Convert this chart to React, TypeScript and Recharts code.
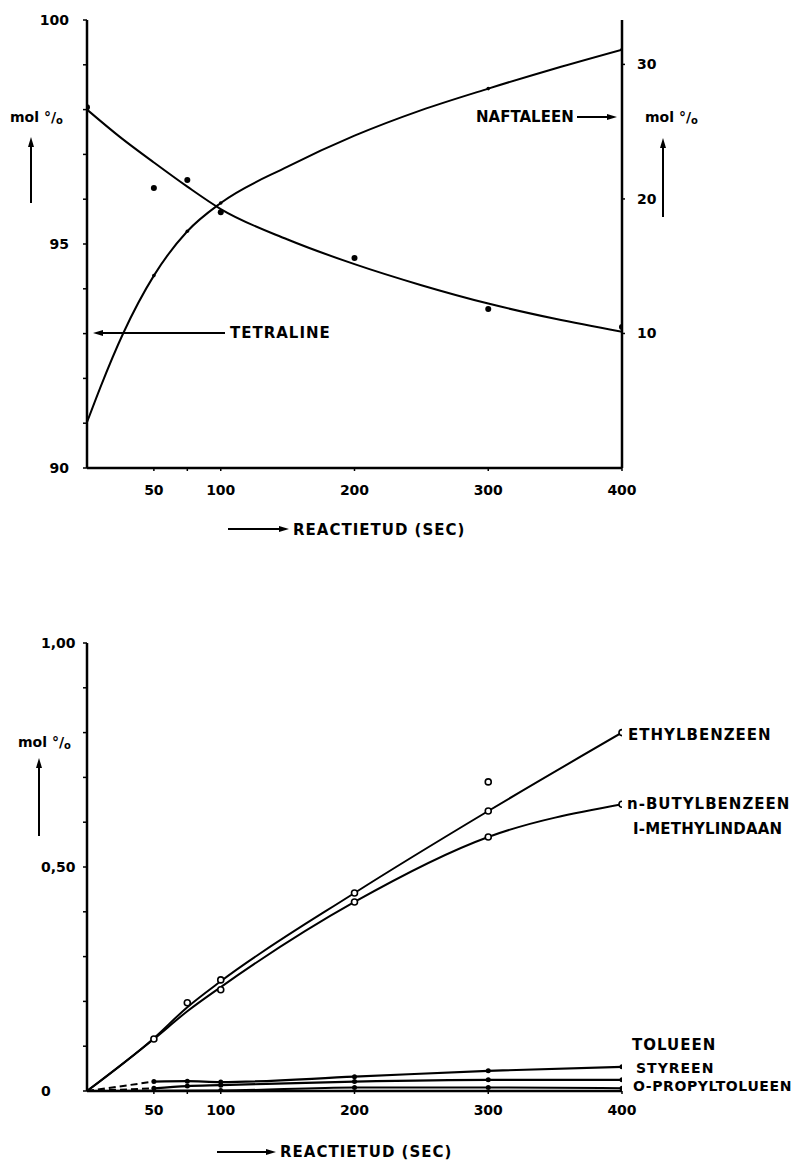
import React from 'react';
import { ComposedChart, Line, XAxis, YAxis } from 'recharts';

const FONT = "'DejaVu Sans', 'Liberation Sans', sans-serif";

// ---------- shared x axis ----------
const X_TICKS = [50, 75, 100, 200, 300, 400];
const X_TICK_LABELS = ['50', '', '100', '200', '300', '400'];

// ---------- top chart: tetraline (left axis) ----------
const TOP_LEFT_TICKS = [90, 91, 92, 93, 94, 95, 96, 97, 98, 99, 100];
const TOP_LEFT_LABELED = [90, 95, 100];
const TOP_RIGHT_TICKS = [10, 20, 30];

const TETRA_FIT_T = [0, 25, 50, 75, 100, 150, 200, 250, 300, 350, 400];
const TETRA_FIT_V = [98.0, 97.38, 96.82, 96.28, 95.78, 95.1, 94.55, 94.08, 93.67, 93.33, 93.04];
const TETRA_PT_T = [0, 50, 75, 100, 200, 300, 400];
const TETRA_PT_V = [98.05, 96.25, 96.43, 95.71, 94.69, 93.55, 93.15];

// ---------- top chart: naftaleen (right axis) ----------
const NAFT_FIT_T = [0, 10, 27, 50, 75, 100, 150, 200, 250, 300, 350, 400];
const NAFT_FIT_V = [3.4, 6.0, 10.0, 14.3, 17.6, 19.7, 22.4, 24.7, 26.6, 28.2, 29.7, 31.1];
const NAFT_PT_T = [50, 75, 100, 300, 400];
const NAFT_PT_V = [14.3, 17.6, 19.7, 28.2, 31.1];

// ---------- bottom chart ----------
const BOT_Y_TICKS = [0, 0.1, 0.2, 0.3, 0.4, 0.5, 0.6, 0.7, 0.8, 0.9, 1.0];
const BOT_Y_LABELS: Record<string, string> = { '0': '0', '0.5': '0,50', '1': '1,00' };

const ETHYL_T = [0, 50, 75, 100, 200, 300, 400];
const ETHYL_V = [0, 0.118, 0.187, 0.245, 0.442, 0.625, 0.8];
const ETHYL_DOT_T = [75, 100, 200, 300, 400];
const ETHYL_DOT_V = [0.197, 0.248, 0.442, 0.625, 0.8];
const ETHYL_OUT_T = [300];
const ETHYL_OUT_V = [0.69];

const BUTYL_T = [0, 50, 75, 100, 200, 300, 400];
const BUTYL_V = [0, 0.116, 0.178, 0.232, 0.422, 0.567, 0.64];
const BUTYL_DOT_T = [50, 100, 200, 300, 400];
const BUTYL_DOT_V = [0.116, 0.226, 0.422, 0.567, 0.64];

const TOLU_LEAD_T = [0, 50];
const TOLU_LEAD_V = [0, 0.021];
const TOLU_T = [50, 75, 100, 200, 300, 400];
const TOLU_V = [0.021, 0.022, 0.02, 0.032, 0.045, 0.054];

const STYR_LEAD_T = [0, 50];
const STYR_LEAD_V = [0, 0.006];
const STYR_T = [50, 75, 100, 200, 300, 400];
const STYR_V = [0.006, 0.011, 0.013, 0.021, 0.025, 0.025];

const PROP_T = [0, 100, 200, 300, 400];
const PROP_V = [0, 0.001, 0.008, 0.008, 0.006];

const zip = (t: number[], v: number[]) => t.map((tt, i) => ({ t: tt, v: v[i] }));

const tickStyle = { fontFamily: FONT, fontWeight: 700, fontSize: 14, fill: '#000' } as const;
const labelStyle = { fontFamily: FONT, fontWeight: 700, fontSize: 15, fill: '#000', letterSpacing: 1 } as const;

function XTick(props: any) {
  const { x, y, payload } = props;
  const label = X_TICK_LABELS[X_TICKS.indexOf(payload.value)];
  if (!label) return <g />;
  return (
    <text x={x} y={y} textAnchor="middle" dominantBaseline="central" style={tickStyle}>
      {label}
    </text>
  );
}

function TopLeftTick(props: any) {
  const { x, y, payload } = props;
  if (!TOP_LEFT_LABELED.includes(payload.value)) return <g />;
  return (
    <text x={x} y={y} textAnchor="end" dominantBaseline="central" style={tickStyle}>
      {payload.value}
    </text>
  );
}

function TopRightTick(props: any) {
  const { x, y, payload } = props;
  return (
    <text x={x} y={y} textAnchor="start" dominantBaseline="central" style={tickStyle}>
      {payload.value}
    </text>
  );
}

function BotLeftTick(props: any) {
  const { x, y, payload } = props;
  const key = String(Math.round(payload.value * 10) / 10);
  const label = BOT_Y_LABELS[key];
  if (!label) return <g />;
  return (
    <text x={x - 28} y={y} textAnchor="start" dominantBaseline="central" style={tickStyle}>
      {label}
    </text>
  );
}

const filledDot = (r: number) => (p: any) =>
  <circle key={`f${p.index}`} cx={p.cx} cy={p.cy} r={r} fill="#000" stroke="none" />;
const openDot = (r: number) => (p: any) =>
  <circle key={`o${p.index}`} cx={p.cx} cy={p.cy} r={r} fill="#fff" stroke="#000" strokeWidth={1.6} />;

function Arrow({ x1, y1, x2, y2 }: { x1: number; y1: number; x2: number; y2: number }) {
  const dx = x2 - x1;
  const dy = y2 - y1;
  const len = Math.sqrt(dx * dx + dy * dy);
  const ux = dx / len;
  const uy = dy / len;
  const hl = 10;
  const hw = 3;
  const bx = x2 - ux * hl;
  const by = y2 - uy * hl;
  const pts = `${x2},${y2} ${bx - uy * hw},${by + ux * hw} ${bx + uy * hw},${by - ux * hw}`;
  return (
    <g>
      <line x1={x1} y1={y1} x2={bx} y2={by} stroke="#000" strokeWidth={2} />
      <polygon points={pts} fill="#000" />
    </g>
  );
}

function MolLabel({ x, y }: { x: number; y: number }) {
  return (
    <text x={x} y={y} dominantBaseline="central" style={{ fontFamily: FONT, fontWeight: 700, fontSize: 14, fill: '#000' }}>
      mol °/<tspan fontSize={10} dy={3}>o</tspan>
    </text>
  );
}

const axisLine = { stroke: '#000', strokeWidth: 2.5 };
const tickLine = { stroke: '#000', strokeWidth: 1.5 };

export default function App() {
  return (
    <div style={{ position: 'absolute', left: 0, top: 0, width: 800, height: 1162, background: '#fff' }}>
      <div style={{ position: 'absolute', left: 0, top: 0 }}>
        <ComposedChart width={800} height={560} margin={{ top: 20, right: 118, bottom: 62, left: 27 }}>
          <XAxis
            type="number"
            dataKey="t"
            domain={[0, 400]}
            ticks={X_TICKS}
            allowDataOverflow
            axisLine={axisLine}
            tickLine={tickLine}
            tickSize={3}
            tickMargin={19}
            height={30}
            tick={<XTick />}
          />
          <YAxis
            yAxisId="left"
            type="number"
            dataKey="v"
            domain={[90, 100]}
            ticks={TOP_LEFT_TICKS}
            allowDataOverflow
            interval={0}
            axisLine={axisLine}
            tickLine={tickLine}
            tickSize={4}
            tickMargin={14}
            width={60}
            tick={<TopLeftTick />}
          />
          <YAxis
            yAxisId="right"
            orientation="right"
            type="number"
            dataKey="v"
            domain={[0, 33.3]}
            ticks={TOP_RIGHT_TICKS}
            allowDataOverflow
            interval={0}
            axisLine={axisLine}
            tickLine={tickLine}
            tickSize={3}
            tickMargin={12}
            width={60}
            tick={<TopRightTick />}
          />
          <Line
            yAxisId="left"
            data={zip(TETRA_FIT_T, TETRA_FIT_V)}
            dataKey="v"
            type="monotone"
            stroke="#000"
            strokeWidth={2}
            dot={false}
            activeDot={false}
            isAnimationActive={false}
          />
          <Line
            yAxisId="left"
            data={zip(TETRA_PT_T, TETRA_PT_V)}
            dataKey="v"
            stroke="none"
            dot={filledDot(3)}
            activeDot={false}
            isAnimationActive={false}
          />
          <Line
            yAxisId="right"
            data={zip(NAFT_FIT_T, NAFT_FIT_V)}
            dataKey="v"
            type="monotone"
            stroke="#000"
            strokeWidth={2}
            dot={false}
            activeDot={false}
            isAnimationActive={false}
          />
          <Line
            yAxisId="right"
            data={zip(NAFT_PT_T, NAFT_PT_V)}
            dataKey="v"
            stroke="none"
            dot={filledDot(1.8)}
            activeDot={false}
            isAnimationActive={false}
          />
        </ComposedChart>
      </div>

      <div style={{ position: 'absolute', left: 0, top: 600 }}>
        <ComposedChart width={800} height={562} margin={{ top: 43, right: 178, bottom: 41, left: 27 }}>
          <XAxis
            type="number"
            dataKey="t"
            domain={[0, 400]}
            ticks={X_TICKS}
            allowDataOverflow
            axisLine={axisLine}
            tickLine={tickLine}
            tickSize={3}
            tickMargin={16}
            height={30}
            tick={<XTick />}
          />
          <YAxis
            type="number"
            dataKey="v"
            domain={[0, 1]}
            ticks={BOT_Y_TICKS}
            allowDataOverflow
            interval={0}
            axisLine={axisLine}
            tickLine={tickLine}
            tickSize={4}
            tickMargin={14}
            width={60}
            tick={<BotLeftTick />}
          />
          <Line data={zip(PROP_T, PROP_V)} dataKey="v" type="monotone" stroke="#000" strokeWidth={2}
            dot={filledDot(2.5)} activeDot={false} isAnimationActive={false} />
          <Line data={zip(STYR_LEAD_T, STYR_LEAD_V)} dataKey="v" type="linear" stroke="#000" strokeWidth={2}
            strokeDasharray="7 4" dot={false} activeDot={false} isAnimationActive={false} />
          <Line data={zip(STYR_T, STYR_V)} dataKey="v" type="monotone" stroke="#000" strokeWidth={2.2}
            dot={filledDot(2.5)} activeDot={false} isAnimationActive={false} />
          <Line data={zip(TOLU_LEAD_T, TOLU_LEAD_V)} dataKey="v" type="linear" stroke="#000" strokeWidth={2}
            strokeDasharray="7 4" dot={false} activeDot={false} isAnimationActive={false} />
          <Line data={zip(TOLU_T, TOLU_V)} dataKey="v" type="monotone" stroke="#000" strokeWidth={2.2}
            dot={filledDot(2.5)} activeDot={false} isAnimationActive={false} />
          <Line data={zip(BUTYL_T, BUTYL_V)} dataKey="v" type="monotone" stroke="#000" strokeWidth={2}
            dot={false} activeDot={false} isAnimationActive={false} />
          <Line data={zip(ETHYL_T, ETHYL_V)} dataKey="v" type="monotone" stroke="#000" strokeWidth={2}
            dot={false} activeDot={false} isAnimationActive={false} />
          <Line data={zip(BUTYL_DOT_T, BUTYL_DOT_V)} dataKey="v" stroke="none"
            dot={openDot(3)} activeDot={false} isAnimationActive={false} />
          <Line data={zip(ETHYL_DOT_T, ETHYL_DOT_V)} dataKey="v" stroke="none"
            dot={openDot(3)} activeDot={false} isAnimationActive={false} />
          <Line data={zip(ETHYL_OUT_T, ETHYL_OUT_V)} dataKey="v" stroke="none"
            dot={openDot(3)} activeDot={false} isAnimationActive={false} />
        </ComposedChart>
      </div>

      <svg width={800} height={1162} style={{ position: 'absolute', left: 0, top: 0, pointerEvents: 'none' }}>
        {/* top chart annotations */}
        <MolLabel x={10} y={117} />
        <Arrow x1={31} y1={203} x2={31} y2={137} />
        <MolLabel x={645} y={117} />
        <Arrow x1={663} y1={217} x2={663} y2={138} />
        <text x={476} y={117} dominantBaseline="central" style={{ ...labelStyle, letterSpacing: 0 }}>NAFTALEEN</text>
        <Arrow x1={577} y1={117} x2={617} y2={117} />
        <text x={230} y={333} dominantBaseline="central" style={labelStyle}>TETRALINE</text>
        <Arrow x1={225} y1={333} x2={93} y2={333} />
        <Arrow x1={228} y1={529} x2={289} y2={529} />
        <text x={293} y={530} dominantBaseline="central" style={labelStyle}>REACTIETUD  (SEC)</text>

        {/* bottom chart annotations */}
        <MolLabel x={18} y={742} />
        <Arrow x1={39} y1={836} x2={39} y2={758} />
        <text x={628} y={735} dominantBaseline="central" style={labelStyle}>ETHYLBENZEEN</text>
        <text x={627} y={804} dominantBaseline="central" style={labelStyle}>n-BUTYLBENZEEN</text>
        <text x={633} y={829} dominantBaseline="central" style={{ ...labelStyle, letterSpacing: 0.2 }}>I-METHYLINDAAN</text>
        <text x={632} y={1045} dominantBaseline="central" style={labelStyle}>TOLUEEN</text>
        <text x={636} y={1068} dominantBaseline="central" style={{ ...labelStyle, fontSize: 14 }}>STYREEN</text>
        <text x={633} y={1086} dominantBaseline="central" style={{ ...labelStyle, fontSize: 14, letterSpacing: 0.6 }}>O-PROPYLTOLUEEN</text>
        <Arrow x1={217} y1={1152} x2={276} y2={1152} />
        <text x={280} y={1152} dominantBaseline="central" style={labelStyle}>REACTIETUD  (SEC)</text>
      </svg>
    </div>
  );
}
